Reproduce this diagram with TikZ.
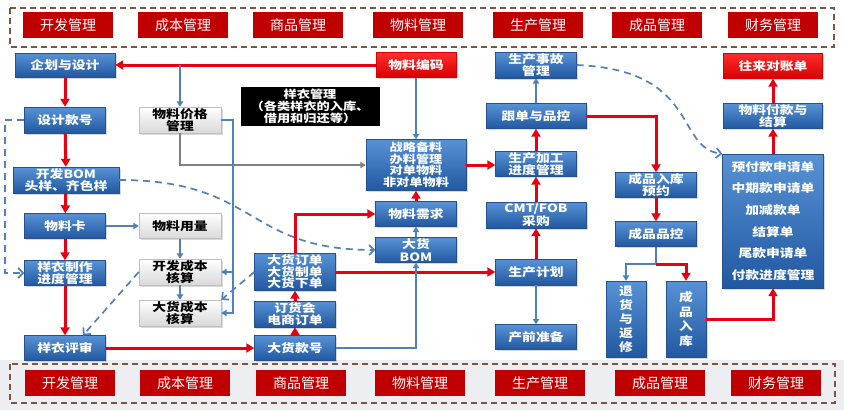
\documentclass[tikz,border=0pt]{standalone}
\usepackage{fontspec}
\setmainfont{Noto Sans CJK SC}[FakeStretch=1.2]
\newfontfamily\tagfont{Noto Sans CJK SC}
\usetikzlibrary{shadows, arrows.meta}
\definecolor{BoxBlueTop}{RGB}{88, 146, 214}
\definecolor{BoxBlueBot}{RGB}{33, 88, 160}
\definecolor{BoxEdge}{RGB}{40, 80, 140}
\definecolor{BoxRedTop}{RGB}{255, 45, 45}
\definecolor{BoxRedBot}{RGB}{215, 0, 0}
\definecolor{TagRed}{RGB}{192, 0, 0}
\definecolor{FrameBrown}{RGB}{125, 85, 65}
\definecolor{LinkRed}{RGB}{230, 0, 18}
\definecolor{LinkBlue}{RGB}{79, 129, 189}
\definecolor{LinkGray}{RGB}{128, 128, 128}
\definecolor{PageGray}{RGB}{236, 238, 241}

\begin{document}
\begin{tikzpicture}[x=1pt, y=-1pt,
        bluebox/.style={draw=BoxEdge, top color=BoxBlueTop, bottom color=BoxBlueBot,
                        text=white, align=center, inner sep=0pt,
                        minimum width=81pt, minimum height=25pt,
                        font=\bfseries\fontsize{11.5}{12.5}\selectfont,
                        drop shadow={opacity=0.3, shadow xshift=1.5pt, shadow yshift=-1.5pt}},
        redbox/.style={bluebox, draw=BoxRedBot, top color=BoxRedTop, bottom color=BoxRedBot},
        graybox/.style={draw=gray!50, top color=white, bottom color=gray!30,
                        text=black, align=center, inner sep=0pt,
                        minimum width=82pt, minimum height=25pt,
                        font=\bfseries\fontsize{11.5}{12.5}\selectfont,
                        drop shadow={opacity=0.3, shadow xshift=1.5pt, shadow yshift=-1.5pt}},
        notebox/.style={fill=black, text=white, align=center, inner sep=0pt,
                        minimum width=139pt, minimum height=39pt,
                        font=\bfseries\fontsize{11}{12}\selectfont},
        tagbox/.style={fill=TagRed, text=white, inner sep=0pt,
                       minimum width=90pt, minimum height=26pt,
                       font=\tagfont\fontsize{14}{14}\selectfont},
        frame/.style={draw=FrameBrown, line width=1.4pt, dash pattern=on 6pt off 4pt},
        redarrow/.style={-{Triangle[length=8pt, width=9pt]}, line width=3pt, LinkRed},
        bluearrow/.style={-{Triangle[length=5.5pt, width=6.5pt]}, line width=1.7pt, LinkBlue},
        grayarrow/.style={-{Triangle[length=5.5pt, width=6.5pt]}, line width=1.7pt, LinkGray},
        dasharrow/.style={-{Straight Barb[length=5pt, width=10pt]}, line width=1.7pt,
                          LinkBlue, dash pattern=on 7pt off 5pt}]

    \useasboundingbox (0,0) rectangle (844,410);
    \fill[PageGray] (0,360) rectangle (844,410);

    % module bars, top and bottom
    \draw[frame] (10,8) rectangle (834,47);
    \draw[frame] (10,364) rectangle (835,403);
    \foreach \name/\xa/\xb/\txt in {dev/68/70/开发管理, cost/183/185/成本管理,
            goods/298/301/商品管理, mat/418/420/物料管理, prod/538/540/生产管理,
            fin/657/660/成品管理, acct/773/776/财务管理} {
        \node[tagbox] (top\name) at (\xa,25) {\txt};
        \node[tagbox] (bot\name) at (\xb,383) {\txt};
    }

    % development column
    \node[bluebox, minimum width=100pt, minimum height=24pt] (plan) at (65,65) {企划与设计};
    \node[bluebox, minimum height=26pt] (design) at (65,120) {设计款号};
    \node[bluebox, minimum width=106pt, minimum height=26pt] (devbom) at (66,180) {开发BOM\\头样、齐色样};
    \node[bluebox] (card) at (65,226) {物料卡};
    \node[bluebox] (proto) at (65,273) {样衣制作\\进度管理};
    \node[bluebox] (review) at (65,348) {样衣评审};

    % cost column
    \node[graybox, minimum height=26pt] (price) at (180,120) {物料价格\\管理};
    \node[graybox] (usage) at (180,226) {物料用量};
    \node[graybox, minimum height=26pt] (devcost) at (180,272) {开发成本\\核算};
    \node[graybox, minimum height=26pt] (bulkcost) at (180,313) {大货成本\\核算};

    \node[notebox] (sample) at (310,106) {样衣管理\\（各类样衣的入库、\\借用和归还等）};

    % goods column
    \node[bluebox, minimum height=37pt, font=\bfseries\fontsize{11.5}{11.5}\selectfont]
          (order) at (295,272) {大货订单\\大货制单\\大货下单};
    \node[bluebox, minimum height=26pt] (fair) at (295,314) {订货会\\电商订单};
    \node[bluebox] (bulkno) at (295,348) {大货款号};

    % material column
    \node[redbox, minimum width=80pt] (code) at (416,65) {物料编码};
    \node[bluebox, minimum width=100pt, minimum height=51pt,
          font=\bfseries\fontsize{11}{11.5}\selectfont] (stock) at (416,165)
          {战略备料\\办料管理\\对单物料\\非对单物料};
    \node[bluebox] (need) at (416,214) {物料需求};
    \node[bluebox] (bulkbom) at (416,250) {大货\\BOM};

    % production column
    \node[bluebox, minimum height=26pt] (accident) at (536,65) {生产事故\\管理};
    \node[bluebox, minimum width=100pt] (track) at (536,116) {跟单与品控};
    \node[bluebox] (process) at (536,164) {生产加工\\进度管理};
    \node[bluebox, minimum width=100pt, minimum height=26pt] (cmt) at (536,215) {CMT/FOB\\采购};
    \node[bluebox, minimum height=26pt] (prodplan) at (536,272) {生产计划};
    \node[bluebox] (prep) at (536,337) {产前准备};

    % finished goods column
    \node[bluebox] (booking) at (656,185) {成品入库\\预约};
    \node[bluebox] (fgqc) at (656,234) {成品品控};
    \node[bluebox, minimum width=40pt, minimum height=76pt,
          font=\bfseries\fontsize{11.5}{14}\selectfont] (repair) at (626,319) {退\\货\\与\\返\\修};
    \node[bluebox, minimum width=40pt, minimum height=76pt,
          font=\bfseries\fontsize{11.5}{14.5}\selectfont] (stockin) at (686,319) {成\\品\\入\\库};

    % finance column
    \node[redbox, minimum width=99pt] (ledger) at (773,66) {往来对账单};
    \node[bluebox, minimum width=99pt] (settle) at (773,116) {物料付款与\\结算};
    \node[bluebox, minimum width=101pt, minimum height=134pt,
          font=\bfseries\fontsize{11.5}{21.6}\selectfont] (payment) at (773,221)
          {预付款申请单\\中期款申请单\\加减款单\\结算单\\尾款申请单\\付款进度管理};

    % helper points
    \coordinate (pricetap) at (180,65);
    \coordinate (costbus) at (233,272);
    \coordinate (leftrail) at (5,120);
    \coordinate (fgsplit) at (656,264);

    % development flow
    \draw[redarrow] (code.west) -- (plan.east);
    \draw[redarrow] (plan) -- (design);
    \draw[redarrow] (design) -- (devbom);
    \draw[redarrow] (devbom) -- (card);
    \draw[redarrow] (card) -- (proto);
    \draw[redarrow] (proto) -- (review);
    \draw[dasharrow] (design.west) -- (leftrail) |- (proto.west);
    \draw[dasharrow] (devbom.east) .. controls (258,180) and (245,250) .. (bulkbom.west);
    \draw[dasharrow] (devcost.west) -- ([xshift=18pt]review.north);

    % cost links
    \draw[bluearrow] (pricetap) -- (price.north);
    \draw[grayarrow] (price.south) |- (stock.west);
    \draw[bluearrow] (price.east) -| (costbus) |- (bulkcost.east);
    \draw[bluearrow] (costbus) -- (devcost.east);
    \draw[bluearrow] (card.east) -- (usage.west);
    \draw[bluearrow] (usage) -- (devcost);
    \draw[bluearrow] (devcost) -- (bulkcost);
    \draw[dasharrow] (order.west) -- (bulkcost.north east);

    % goods and material
    \draw[redarrow] (review.east) -- (bulkno.west);
    \draw[redarrow] (bulkno) -- (fair);
    \draw[redarrow] (fair) -- (order);
    \draw[redarrow] (order.north) |- (need.west);
    \draw[redarrow] (order.east) -- (prodplan.west);
    \draw[bluearrow] (bulkno.east) -| (bulkbom.south);
    \draw[bluearrow] (bulkbom) -- (need);
    \draw[redarrow] (need) -- (stock);
    \draw[bluearrow] (code) -- (stock);
    \draw[redarrow] (stock.east) -- (stock.east -| process.west);

    % production
    \draw[redarrow] (prodplan) -- (cmt);
    \draw[redarrow] (cmt) -- (process);
    \draw[redarrow] (process) -- (track);
    \draw[bluearrow] (track) -- (accident);
    \draw[bluearrow] (prodplan) -- (prep);
    \draw[dasharrow] (accident.east) .. controls (700,70) and (675,148) .. (payment.north west);

    % finished goods and finance
    \draw[redarrow] (track.east) -| (booking.north);
    \draw[redarrow] (booking) -- (fgqc);
    \draw[bluearrow] (fgqc.south) -- (fgsplit) -| (repair.north);
    \draw[redarrow] (fgsplit) -| (stockin.north);
    \draw[redarrow] (stockin.east) -| (payment.south);
    \draw[redarrow] (payment) -- (settle);
    \draw[redarrow] (settle) -- (ledger);
\end{tikzpicture}
\end{document}
